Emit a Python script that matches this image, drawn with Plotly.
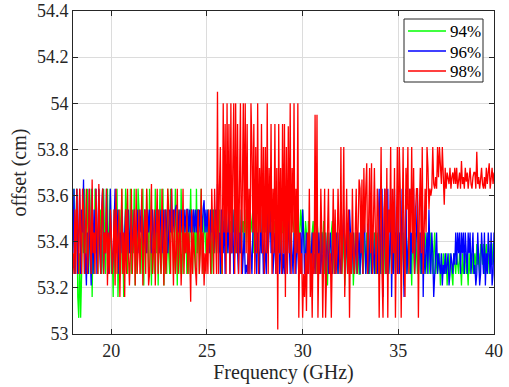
import numpy as np
import plotly.graph_objects as go

green = [
53.44,53.63,53.26,53.54,53.63,53.16,53.07,53.35,53.07,53.26,53.54,53.35,53.63,53.26,53.44,53.63,53.35,53.54,53.26,53.63,
53.16,53.44,53.26,53.63,53.54,53.35,53.26,53.63,53.44,53.54,53.26,53.35,53.63,53.44,53.26,53.54,53.63,53.35,53.44,53.63,
53.26,53.35,53.16,53.54,53.26,53.44,53.63,53.16,53.35,53.54,53.26,53.63,53.44,53.16,53.35,53.63,53.54,53.26,53.44,53.35,
53.63,53.26,53.54,53.35,53.63,53.21,53.44,53.26,53.63,53.54,53.35,53.26,53.44,53.63,53.21,53.54,53.35,53.63,53.44,53.26,
53.63,53.35,53.21,53.54,53.44,53.26,53.63,53.35,53.54,53.21,53.44,53.63,53.26,53.35,53.63,53.21,53.44,53.54,53.26,53.63,
53.35,53.26,53.63,53.44,53.54,53.26,53.35,53.63,53.44,53.21,53.54,53.35,53.26,53.63,53.44,53.26,53.54,53.35,53.44,53.26,
53.54,53.26,53.44,53.63,53.35,53.26,53.54,53.44,53.26,53.63,53.35,53.54,53.26,53.44,53.63,53.35,53.26,53.54,53.44,53.35,
53.44,53.54,53.35,53.44,53.54,53.26,53.44,53.54,53.35,53.44,53.54,53.44,53.35,53.54,53.44,53.26,53.54,53.44,53.49,53.44,
53.54,53.35,53.44,53.54,53.44,53.49,53.35,53.54,53.44,53.54,53.35,53.44,53.49,53.54,53.44,53.35,53.54,53.44,53.49,53.35,
53.44,53.54,53.49,53.44,53.35,53.54,53.44,53.49,53.54,53.35,53.44,53.54,53.44,53.35,53.49,53.54,53.44,53.35,53.54,53.44,
53.49,53.44,53.54,53.35,53.44,53.54,53.49,53.44,53.35,53.54,53.44,53.49,53.35,53.54,53.44,53.49,53.44,53.35,53.54,53.44,
53.44,53.54,53.35,53.44,53.49,53.54,53.44,53.35,53.44,53.54,53.49,53.44,53.35,53.54,53.44,53.49,53.35,53.44,53.54,53.44,
53.54,53.44,53.35,53.49,53.44,53.26,53.49,53.44,53.35,53.26,53.44,53.49,53.35,53.44,53.26,53.49,53.44,53.35,53.26,53.44,
53.44,53.35,53.49,53.26,53.44,53.35,53.21,53.44,53.35,53.26,53.44,53.49,53.35,53.26,53.44,53.35,53.44,53.26,53.35,53.44,
53.44,53.26,53.35,53.44,53.21,53.35,53.44,53.26,53.35,53.44,53.26,53.35,53.44,53.21,53.35,53.44,53.26,53.44,53.35,53.26,
53.26,53.44,53.35,53.26,53.44,53.35,53.26,53.44,53.35,53.44,53.26,53.35,53.44,53.26,53.35,53.44,53.26,53.35,53.44,53.26,
53.44,53.35,53.26,53.44,53.35,53.26,53.44,53.35,53.26,53.44,53.26,53.35,53.44,53.26,53.35,53.44,53.35,53.26,53.44,53.35,
53.26,53.35,53.44,53.26,53.35,53.44,53.21,53.35,53.44,53.26,53.35,53.44,53.26,53.35,53.21,53.44,53.35,53.26,53.44,53.35,
53.26,53.35,53.44,53.26,53.35,53.44,53.26,53.35,53.44,53.35,53.26,53.44,53.35,53.26,53.44,53.35,53.26,53.35,53.44,53.26,
53.35,53.26,53.30,53.35,53.21,53.30,53.26,53.35,53.30,53.26,53.35,53.21,53.30,53.26,53.35,53.30,53.26,53.21,53.35,53.30,
53.26,53.35,53.30,53.26,53.35,53.30,53.21,53.35,53.26,53.30,53.35,53.26,53.30,53.21,53.35,53.26,53.30,53.35,53.26,53.30,
53.35,53.26,53.39,53.30,53.35,53.26,53.39,53.35,53.30,53.39,53.26,53.35,53.39,53.30,53.35,53.26,53.39,53.35,53.30,53.39,
53.39,
]

blue = [
53.35,53.63,53.26,53.54,53.63,53.26,53.44,53.63,53.26,53.54,53.44,53.67,53.26,53.35,53.21,53.44,53.26,53.63,53.35,53.21,
53.63,53.26,53.54,53.35,53.63,53.26,53.44,53.63,53.35,53.26,53.54,53.63,53.26,53.44,53.35,53.63,53.44,53.26,53.35,53.63,
53.44,53.26,53.35,53.54,53.63,53.35,53.44,53.54,53.26,53.44,53.35,53.54,53.44,53.35,53.44,53.54,53.35,53.44,53.54,53.35,
53.44,53.54,53.35,53.44,53.54,53.44,53.35,53.54,53.44,53.35,53.54,53.44,53.54,53.35,53.44,53.54,53.44,53.35,53.54,53.44,
53.54,53.44,53.35,53.54,53.44,53.35,53.44,53.54,53.44,53.54,53.35,53.44,53.54,53.44,53.35,53.54,53.44,53.54,53.44,53.35,
53.44,53.54,53.44,53.63,53.44,53.54,53.44,53.54,53.56,53.54,53.44,53.54,53.44,53.54,53.44,53.54,53.44,53.54,53.44,53.54,
53.54,53.44,53.54,53.44,53.54,53.44,53.54,53.44,53.54,53.44,53.54,53.44,53.54,53.44,53.54,53.44,53.54,53.58,53.44,53.54,
53.44,53.54,53.44,53.35,53.54,53.44,53.54,53.35,53.44,53.54,53.44,53.65,53.35,53.44,53.26,53.54,53.44,53.35,53.54,53.26,
53.54,53.44,53.35,53.54,53.26,53.44,53.35,53.54,53.26,53.35,53.44,53.54,53.35,53.26,53.44,53.35,53.54,53.26,53.35,53.44,
53.26,53.30,53.26,53.35,53.26,53.44,53.35,53.26,53.44,53.63,53.44,53.35,53.26,53.44,53.35,53.26,53.54,53.35,53.44,53.26,
53.44,53.35,53.26,53.54,53.35,53.44,53.63,53.35,53.44,53.26,53.35,53.44,53.26,53.54,53.35,53.44,53.26,53.35,53.44,53.26,
53.35,53.26,53.44,53.35,53.26,53.54,53.35,53.26,53.44,53.35,53.26,53.44,53.35,53.26,53.44,53.35,53.26,53.35,53.44,53.26,
53.54,53.44,53.26,53.35,53.44,53.26,53.35,53.44,53.26,53.35,53.44,53.26,53.35,53.26,53.44,53.35,53.26,53.44,53.35,53.26,
53.44,53.26,53.35,53.44,53.26,53.35,53.44,53.26,53.35,53.44,53.35,53.26,53.44,53.35,53.26,53.44,53.35,53.26,53.44,53.35,
53.26,53.35,53.44,53.54,53.26,53.35,53.44,53.26,53.35,53.54,53.44,53.26,53.35,53.44,53.26,53.35,53.44,53.26,53.35,53.44,
53.26,53.44,53.35,53.26,53.54,53.44,53.26,53.35,53.44,53.26,53.35,53.54,53.26,53.44,53.35,53.26,53.44,53.35,53.26,53.44,
53.63,53.26,53.44,53.63,53.16,53.35,53.63,53.26,53.44,53.63,53.26,53.35,53.63,53.16,53.44,53.26,53.63,53.35,53.44,53.26,
53.63,53.26,53.44,53.35,53.63,53.26,53.16,53.44,53.63,53.26,53.35,53.44,53.63,53.26,53.44,53.35,53.63,53.26,53.35,53.44,
53.63,53.26,53.35,53.44,53.26,53.63,53.16,53.44,53.26,53.35,53.44,53.26,53.54,53.35,53.26,53.44,53.35,53.16,53.26,53.35,
53.44,53.26,53.35,53.30,53.26,53.35,53.21,53.30,53.26,53.35,53.26,53.30,53.35,53.21,53.26,53.35,53.30,53.26,53.35,53.30,
53.44,53.30,53.44,53.35,53.44,53.26,53.44,53.35,53.44,53.26,53.44,53.35,53.26,53.44,53.35,53.44,53.26,53.35,53.44,53.26,
53.30,53.21,53.26,53.44,53.35,53.21,53.26,53.44,53.35,53.26,53.44,53.21,53.35,53.26,53.44,53.35,53.26,53.44,53.21,53.26,
53.44,
]

red = [
53.35,53.26,53.54,53.26,53.63,53.35,53.26,53.63,53.44,53.26,53.63,53.54,53.26,53.44,53.63,53.26,53.35,53.63,53.44,53.26,
53.67,53.35,53.44,53.26,53.63,53.44,53.26,53.65,53.35,53.26,53.54,53.63,53.26,53.44,53.35,53.63,53.21,53.44,53.26,53.54,
53.44,53.26,53.35,53.54,53.21,53.63,53.26,53.44,53.54,53.16,53.35,53.63,53.26,53.44,53.16,53.54,53.26,53.63,53.35,53.21,
53.35,53.63,53.26,53.44,53.54,53.21,53.63,53.26,53.35,53.54,53.26,53.44,53.63,53.21,53.35,53.54,53.26,53.63,53.44,53.21,
53.26,53.44,53.65,53.26,53.35,53.54,53.21,53.44,53.63,53.26,53.54,53.35,53.26,53.63,53.44,53.21,53.54,53.26,53.35,53.63,
53.54,53.35,53.26,53.63,53.44,53.21,53.54,53.26,53.35,53.63,53.26,53.44,53.54,53.21,53.35,53.63,53.26,53.44,53.35,53.54,
53.26,53.44,53.35,53.14,53.54,53.26,53.44,53.35,53.26,53.21,53.44,53.54,53.26,53.35,53.63,53.26,53.44,53.21,53.35,53.26,
53.44,53.26,53.54,53.35,53.26,53.63,53.44,53.26,53.63,53.35,53.26,54.05,53.26,53.63,53.81,53.35,53.26,54.00,53.44,53.91,
53.26,54.00,53.44,53.91,53.26,54.00,53.35,53.72,54.00,53.26,54.00,53.35,53.91,53.26,53.63,54.00,53.26,53.81,54.00,53.44,
54.00,53.35,53.91,53.26,53.63,53.26,54.00,53.81,53.44,53.91,53.26,53.81,53.35,54.00,53.26,53.72,53.44,53.91,53.35,53.81,
53.26,53.81,53.35,54.00,53.26,53.72,53.44,53.91,53.26,53.63,53.35,53.91,53.26,53.72,53.02,53.91,53.35,53.72,53.26,53.91,
53.35,53.91,53.16,53.81,53.26,53.90,53.35,54.00,53.26,53.72,53.44,54.00,53.26,53.63,53.35,54.00,53.07,53.44,53.26,53.35,
53.07,53.26,53.16,53.35,53.10,53.44,53.26,53.63,53.16,53.35,53.07,53.44,53.26,53.95,53.26,53.95,53.07,53.35,53.26,53.63,
53.44,53.07,53.35,53.63,53.07,53.26,53.44,53.63,53.26,53.35,53.07,53.44,53.63,53.26,53.54,53.26,53.35,53.63,53.44,53.26,
53.81,53.26,53.44,53.81,53.16,53.35,53.63,53.26,53.54,53.07,53.44,53.26,53.63,53.35,53.26,53.44,53.63,53.26,53.54,53.67,
53.63,53.35,53.67,53.26,53.72,53.44,53.63,53.74,53.26,53.54,53.72,53.35,53.74,53.26,53.63,53.72,53.44,53.26,53.63,53.54,
53.07,53.44,53.81,53.26,53.07,53.54,53.63,53.26,53.72,53.07,53.54,53.44,53.81,53.26,53.63,53.35,53.72,53.07,53.54,53.81,
53.26,53.81,53.63,53.07,53.44,53.81,53.35,53.16,53.72,53.54,53.81,53.26,53.63,53.44,53.81,53.35,53.72,53.26,53.54,53.63,
53.63,53.07,53.54,53.72,53.35,53.81,53.26,53.54,53.63,53.44,53.81,53.72,53.54,53.63,53.60,53.63,53.81,53.65,53.63,53.68,
53.63,53.81,53.68,53.81,53.72,53.65,53.81,53.68,53.56,53.72,53.63,53.70,53.68,53.65,53.72,53.63,53.68,53.70,53.65,53.72,
53.65,53.72,53.63,53.67,53.70,53.63,53.75,53.65,53.68,53.63,53.72,53.66,53.70,53.63,53.67,53.72,53.65,53.63,53.68,53.70,
53.70,53.63,53.79,53.65,53.68,53.63,53.67,53.72,53.65,53.63,53.68,53.63,53.72,53.65,53.70,53.74,53.63,53.67,53.72,53.65,
53.70,
]

f_start, f_stop = 18.0, 40.0
series_names = ["94%", "96%", "98%"]
series_colors = ["#00ff00", "#0000ff", "#ff0000"]
x_ticks = [20, 25, 30, 35, 40]
y_ticks = [53, 53.2, 53.4, 53.6, 53.8, 54, 54.2, 54.4]
y_tick_text = ["53", "53.2", "53.4", "53.6", "53.8", "54", "54.2", "54.4"]

fig = go.Figure()
for name, vals, col in zip(series_names, [green, blue, red], series_colors):
    freq = np.linspace(f_start, f_stop, len(vals))
    fig.add_trace(go.Scatter(x=freq, y=vals, mode="lines", name=name,
                             line=dict(color=col, width=1.3), showlegend=False))

font_family = "Liberation Serif, Times New Roman, serif"

# manual legend box (paper coordinates of plot domain)
W, H = 509, 387
ml, mr, mt, mb = 73, 15, 11, 53
pw, ph = W - ml - mr, H - mt - mb
def px(x):
    return (x - ml) / pw
def py(y):
    return (H - mb - y) / ph

fig.add_shape(type="rect", xref="paper", yref="paper",
              x0=px(404), x1=px(483), y0=py(82), y1=py(19),
              line=dict(color="#262626", width=1), fillcolor="white", layer="above")
for i, (name, col) in enumerate(zip(series_names, series_colors)):
    yy = 31 + 20 * i
    fig.add_shape(type="line", xref="paper", yref="paper",
                  x0=px(408), x1=px(446), y0=py(yy), y1=py(yy),
                  line=dict(color=col, width=1.3), layer="above")
    fig.add_annotation(xref="paper", yref="paper", x=px(448), y=py(yy + 1),
                       xanchor="left", yanchor="middle", showarrow=False, text=name,
                       font=dict(family=font_family, size=17, color="#000000"))

axis_common = dict(showline=True, linecolor="#262626", linewidth=1, mirror="ticks",
                   ticks="inside", ticklen=5, tickcolor="#262626",
                   showgrid=True, gridcolor="#dcdcdc", gridwidth=1, zeroline=False,
                   ticklabeloverflow="allow", automargin=False,
                   tickfont=dict(family=font_family, size=18, color="#262626"))

fig.update_layout(
    width=W, height=H,
    margin=dict(l=ml, r=mr, t=mt, b=mb),
    paper_bgcolor="white", plot_bgcolor="white",
    font=dict(family=font_family, color="#262626"),
    showlegend=False,
)
fig.update_xaxes(range=[18, 40], tickvals=x_ticks,
                 title=dict(text="Frequency (GHz)", font=dict(family=font_family, size=20), standoff=2),
                 **axis_common)
fig.update_yaxes(range=[53, 54.4], tickvals=y_ticks, ticktext=y_tick_text,
                 title=dict(text="offset (cm)", font=dict(family=font_family, size=20), standoff=4),
                 **axis_common)

fig.write_html("out.html")
